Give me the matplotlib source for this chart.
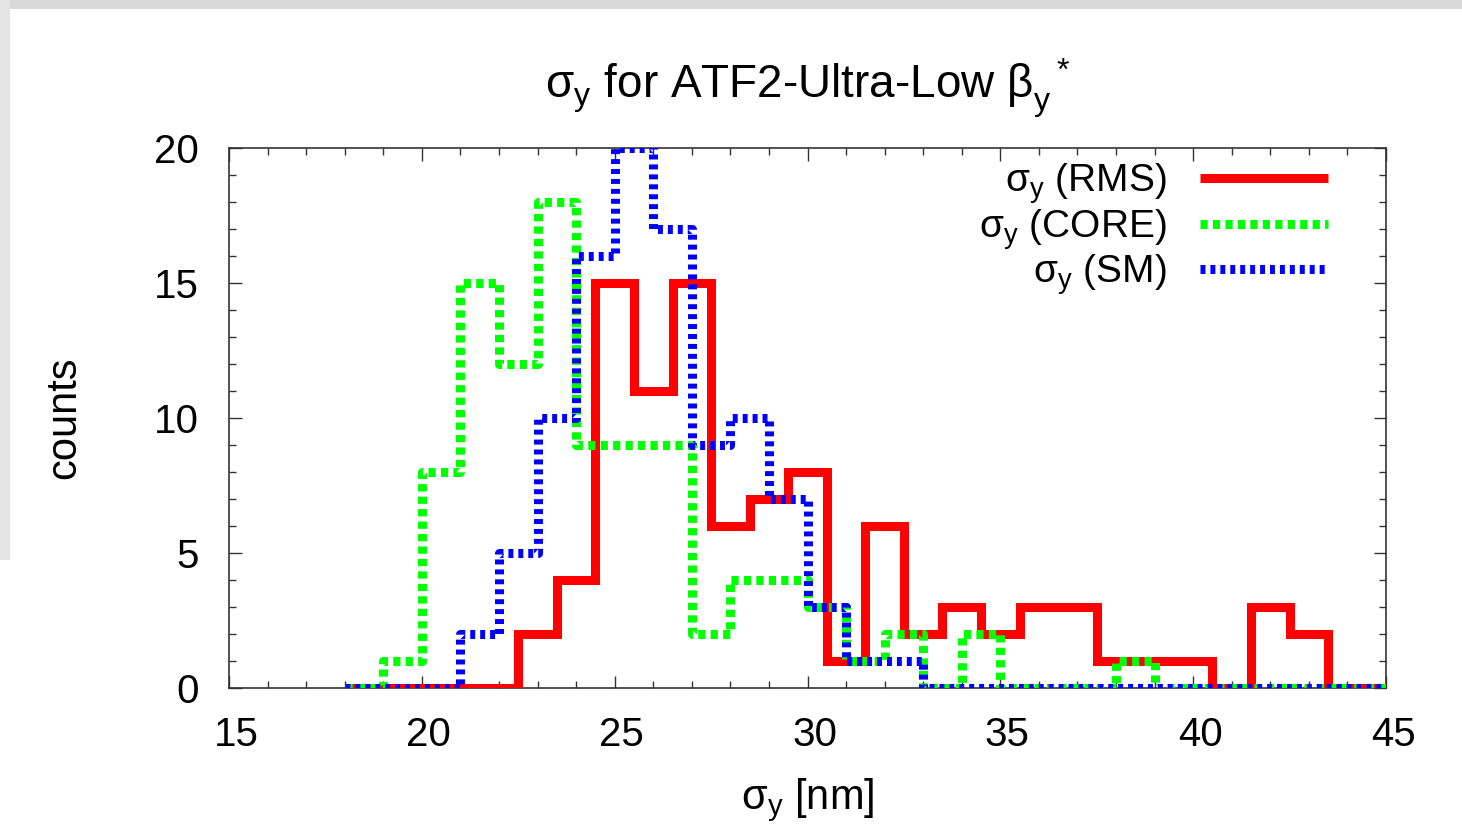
import numpy as np
import matplotlib
matplotlib.use("Agg")
import matplotlib.pyplot as plt
from matplotlib.patches import Rectangle
from matplotlib.ticker import MultipleLocator
from matplotlib.transforms import ScaledTranslation

# ---------------- data ----------------
rms_edges = [18.0, 22.5, 23.5, 24.5, 25.5, 26.5, 27.5, 28.5, 29.5, 30.5, 31.5,
             32.5, 33.5, 34.5, 35.5, 36.5, 37.5, 38.5, 39.5, 40.5, 41.5, 42.5,
             43.5, 45.0]
rms_counts = [0, 2, 4, 15, 11, 15, 6, 7, 8, 1, 6, 2, 3, 2, 3, 3, 1, 1, 1, 0,
              3, 2, 0]

core_edges = [18, 19, 20, 21, 22, 23, 24, 25, 26, 27, 28, 29, 30, 31, 32, 33,
              34, 35, 36, 37, 38, 39, 45]
core_counts = [0, 1, 8, 15, 12, 18, 9, 9, 9, 2, 4, 4, 3, 1, 2, 0, 2, 0, 0, 0,
               1, 0]

sm_edges = [18, 19, 20, 21, 22, 23, 24, 25, 26, 27, 28, 29, 30, 31, 32, 33, 45]
sm_counts = [0, 0, 0, 2, 5, 10, 16, 20, 17, 9, 10, 7, 3, 1, 1, 0]

labels = [r"$\sigma_y$ (RMS)", r"$\sigma_y$ (CORE)", r"$\sigma_y$ (SM)"]
title = r"$\sigma_y$ for ATF2-Ultra-Low $\beta_y^{\ \ *}$"
xlabel = r"$\sigma_y$ [nm]"
ylabel = "counts"
xticks = [15, 20, 25, 30, 35, 40, 45]
yticks = [0, 5, 10, 15, 20]

# ---------------- style ----------------
plt.rcParams["font.family"] = ["Liberation Sans", "DejaVu Sans"]
plt.rcParams["mathtext.fontset"] = "custom"
plt.rcParams["mathtext.rm"] = "Liberation Sans"
plt.rcParams["mathtext.it"] = "Liberation Sans"
plt.rcParams["mathtext.default"] = "regular"

FS_TICK = 29
FS_TITLE = 33
FS_LEG = 28
FS_LAB = 30
W, H, DPI = 1462, 826, 100
fig = plt.figure(figsize=(W / DPI, H / DPI), dpi=DPI, facecolor="white")
ax = fig.add_axes([229 / W, 1 - 688 / H, (1386 - 229) / W, (688 - 148) / H])

# light grey page border (top / left)
fig.patches.append(Rectangle((0, 1 - 9 / H), 1, 9 / H, transform=fig.transFigure,
                             facecolor="#d9d9d9", edgecolor="none", zorder=-5))
fig.patches.append(Rectangle((0, 1 - 560 / H), 10 / W, 560 / H,
                             transform=fig.transFigure,
                             facecolor="#e4e4e4", edgecolor="none", zorder=-5))

LW = 6.5


def steps(edges, counts):
    e = np.asarray(edges, float)
    c = np.asarray(counts, float)
    return e, np.append(c, c[-1])


x, y = steps(rms_edges, rms_counts)
ax.step(x, y, where="post", color="#ff0000", lw=LW, solid_joinstyle="miter",
        solid_capstyle="butt", label=labels[0], zorder=3)
x, y = steps(core_edges, core_counts)
ax.step(x, y, where="post", color="#00ff00", lw=LW, dashes=(0.8, 0.58),
        dash_capstyle="butt", label=labels[1], zorder=4)
x, y = steps(sm_edges, sm_counts)
ax.step(x, y, where="post", color="#0000ff", lw=LW, dashes=(0.55, 0.55),
        dash_capstyle="butt", label=labels[2], zorder=5)

ax.set_xlim(15, 45)
ax.set_ylim(0, 20)
ax.set_xticks(xticks)
ax.set_yticks(yticks)
ax.xaxis.set_minor_locator(MultipleLocator(1))
ax.yaxis.set_minor_locator(MultipleLocator(1))
ax.tick_params(which="both", direction="in", top=True, right=True,
               labelsize=FS_TICK, width=1.0, color="#333333")
ax.tick_params(which="major", length=9)
ax.tick_params(axis="x", which="major", pad=20)
ax.tick_params(axis="y", which="major", pad=22)
ax.tick_params(which="minor", length=5)
for s in ax.spines.values():
    s.set_linewidth(1.2)
    s.set_color("#333333")

# gnuplot places x tick labels slightly right of the tick
shift = ScaledTranslation(7 / DPI, 0, fig.dpi_scale_trans)
for lab in ax.get_xticklabels():
    lab.set_transform(lab.get_transform() + shift)

ax.set_title(title, fontsize=FS_TITLE, pad=36)
ax.set_xlabel(xlabel, fontsize=FS_LAB, labelpad=16)
ax.set_ylabel(ylabel, fontsize=FS_LAB, labelpad=50)

leg = ax.legend(loc="upper right", bbox_to_anchor=(0.950, 0.975),
                frameon=False, markerfirst=False, fontsize=FS_LEG,
                handlelength=3.3, handletextpad=0.85, labelspacing=0.02,
                borderpad=0, borderaxespad=0)

fig.savefig("out.png", dpi=DPI, facecolor="white")
